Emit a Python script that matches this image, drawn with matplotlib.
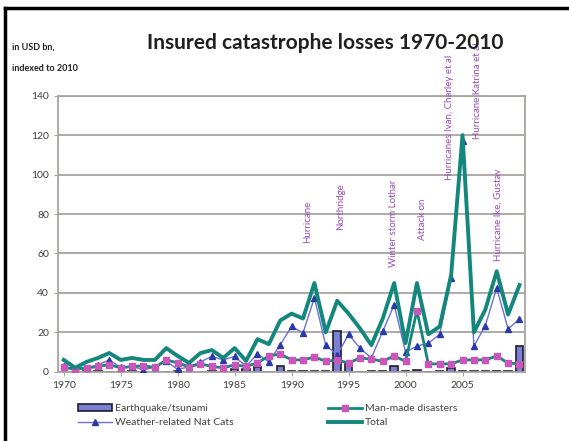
import numpy as np
import matplotlib.pyplot as plt
from matplotlib.lines import Line2D

plt.rcParams['font.family'] = ['Lato', 'DejaVu Sans']

years = list(range(1970, 2011))

total = [6, 2, 5, 7, 9.5, 6, 7, 6, 6, 12,
         8, 4.5, 9.5, 11, 7, 12, 5.5, 16.5, 14, 26,
         29.5, 27, 45, 20, 36, 29.5, 22, 13.5, 27, 45,
         14.5, 45, 19, 23, 49, 120, 20, 31.5, 51, 29,
         44]

weather = [2.7, 0.5, 2, 3.5, 6, 2.2, 2.7, 1, 2.4, 5.3,
           1.2, 2.5, 5, 7.8, 6, 7.8, 2.7, 9, 5, 13.7,
           23, 19.7, 37.5, 13.4, 8.5, 19, 12, 7, 20.5, 34,
           10, 13, 14.5, 19, 47.6, 117, 13, 23.4, 42.5, 21.7,
           26.8]

man_made = [2.2, 1.4, 1.9, 2.7, 3.6, 2, 2.7, 3, 2.2, 6,
            4.5, 2.5, 4, 2.7, 2, 3.5, 2.7, 4.5, 8, 9,
            6, 6, 7.5, 5.3, 6, 4.4, 7, 6.4, 5.3, 8,
            5.3, 31, 4, 4, 4, 6, 6, 6, 8, 4.4,
            4]

quake = [0, 0, 0.3, 0.3, 0, 0, 0.3, 0, 0, 0,
         0.3, 0, 0, 0.3, 0, 1.5, 1.5, 2.5, 0, 3,
         0.3, 0.3, 0.3, 0.3, 20.5, 4.5, 0, 0.3, 0.3, 2.7,
         0.3, 1, 0, 0.3, 2, 0.3, 0.3, 0.3, 0.3, 0.3,
         13]

# event labels: text, year, bottom of text in USD bn
events = ['Hurricane', 'Northridge', 'Winter storm Lothar', 'Attack on',
          'Hurricanes Ivan, Charley et al', 'Hurricane Katrina et al',
          'Hurricane Ike, Gustav']
event_x = [1991.4, 1994.3, 1998.9, 2001.5, 2003.9, 2006.3, 2008.1]
event_y = [65.5, 72, 53, 67, 97.5, 118, 56]

teal = '#14877d'
x = np.arange(len(years))

fig = plt.figure(figsize=(5.69, 4.41), dpi=100)
ax = fig.add_axes([0.102, 0.157, 0.821, 0.626])

b = ax.bar(x, quake, width=0.65, color='#7b80d2', edgecolor='#1c1c30',
           linewidth=1.2, zorder=2)
w, = ax.plot(x, weather, color='#6a70d8', lw=1, marker='^', ms=4.5,
             mfc='#2a38a8', mec='#2a38a8', zorder=3)
m, = ax.plot(x, man_made, color=teal, lw=2, marker='s', ms=5,
             mfc='#cc55bb', mec='#cc55bb', zorder=4)
t, = ax.plot(x, total, color=teal, lw=2.8, zorder=5)

for txt, yr, yb in zip(events, event_x, event_y):
    ax.text(yr - 1970, yb, txt, rotation=90, ha='center', va='bottom',
            fontsize=7, color='#9a4cb8', clip_on=False, zorder=6)

ax.set_xlim(-0.5, len(years) - 0.5)
ax.set_ylim(0, 140)
ax.set_yticks(range(0, 141, 20))
ax.set_xticks(x[::5][:-1])
ax.set_xticklabels([str(y) for y in years[::5][:-1]])
ax.yaxis.grid(True, color='#a8a4a0', lw=1.3)
ax.set_axisbelow(True)
for s in ax.spines.values():
    s.set_color('#a8a4a0')
    s.set_linewidth(1.3)
ax.tick_params(labelsize=7.5, colors='#a8a4a0', labelcolor='#404040', length=3)

fig.text(0.571, 0.902, 'Insured catastrophe losses 1970-2010', ha='center',
         va='center', fontsize=15, fontweight='bold', color='#202020')
fig.text(0.021, 0.888, 'in USD bn,', fontsize=6.5, fontweight='bold', color='#202020')
fig.text(0.021, 0.840, 'indexed to 2010', fontsize=6.5, fontweight='bold', color='#202020')

# two legend columns, filled column by column
leg = fig.legend([b, w, m, t],
                 ['Earthquake/tsunami', 'Weather-related Nat Cats',
                  'Man-made disasters', 'Total'],
                 ncol=2, loc='upper left', bbox_to_anchor=(0.12, 0.105),
                 frameon=False, fontsize=7.5, handlelength=3.3,
                 columnspacing=9, labelspacing=0.45, handletextpad=0.3)
for txt in leg.get_texts():
    txt.set_color('#404040')

# black frame on the top and left edges
fig.add_artist(Line2D([0.009, 1], [0.982, 0.982], color='black', lw=2.5))
fig.add_artist(Line2D([0.009, 0.009], [0, 0.982], color='black', lw=2.5))

fig.savefig('out.png', dpi=100)
